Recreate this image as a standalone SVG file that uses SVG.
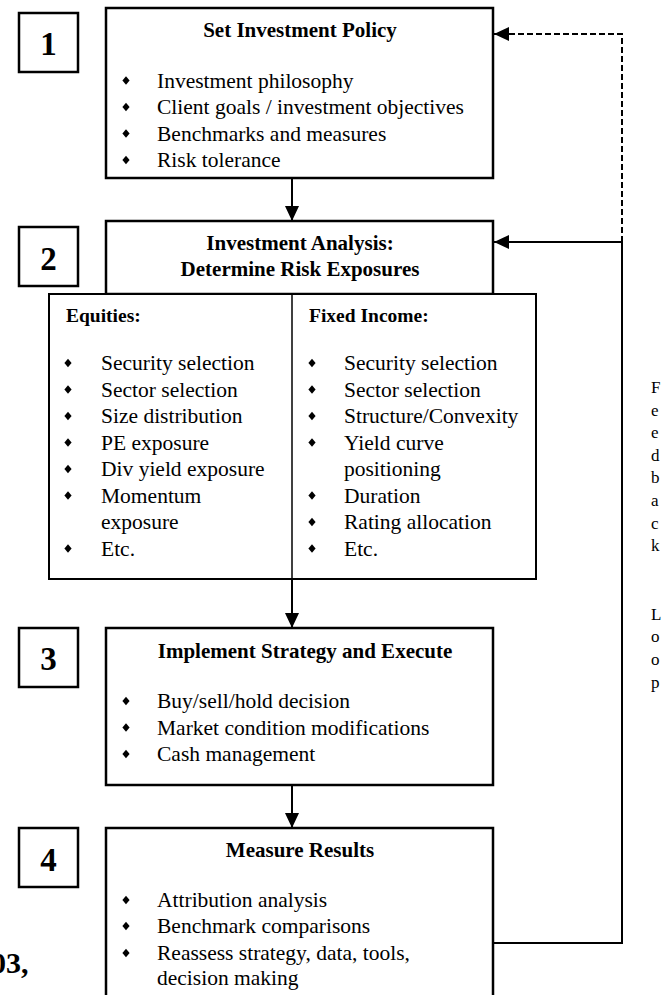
<svg xmlns="http://www.w3.org/2000/svg" width="664" height="995" viewBox="0 0 664 995">
<style>
.box{fill:#fff;stroke:#000;stroke-width:2.5}
.nbox{fill:#fff;stroke:#000;stroke-width:2.5}
.inner{fill:#fff;stroke:#000;stroke-width:2}
.t{font-family:"Liberation Serif","Times New Roman",serif;font-size:21.5px;fill:#000}
.h{font-family:"Liberation Serif","Times New Roman",serif;font-size:21px;font-weight:bold;fill:#000;text-anchor:middle}
.sh{font-family:"Liberation Serif","Times New Roman",serif;font-size:19.5px;font-weight:bold;fill:#000}
.num{font-family:"Liberation Serif","Times New Roman",serif;font-size:33px;font-weight:bold;fill:#000;text-anchor:middle}
.fb{font-family:"Liberation Serif","Times New Roman",serif;font-size:17px;fill:#000}
.big{font-family:"Liberation Serif","Times New Roman",serif;font-size:30px;font-weight:bold;fill:#000}
.ln{fill:none;stroke:#000;stroke-width:2}
.dash{fill:none;stroke:#000;stroke-width:2;stroke-dasharray:6,3}
</style>
<defs>
<marker id="ah" viewBox="0 0 15 14" refX="15" refY="7" markerWidth="15" markerHeight="14" markerUnits="userSpaceOnUse" orient="auto">
<path d="M0,0 L15,7 L0,14 z" fill="#000"/>
</marker>
<path id="bul" d="M0,-4.2 L3.6,0 L0,4.2 L-3.6,0 z" fill="#000"/>
</defs>
<rect width="664" height="995" fill="#fff"/>

<g id="connectors">
<path class="ln" d="M292,179 L292,221" marker-end="url(#ah)"/>
<path class="ln" d="M292,580 L292,628" marker-end="url(#ah)"/>
<path class="ln" d="M292,786 L292,828" marker-end="url(#ah)"/>
<path class="ln" d="M494,943 L622,943 L622,242 L494,242" marker-end="url(#ah)"/>
<path class="dash" d="M622,242 L622,34 L494,34" marker-end="url(#ah)"/>
</g>

<g id="step1">
<rect class="nbox" x="19" y="13" width="59" height="59"/>
<text class="num" x="48.5" y="55">1</text>
</g>
<g id="step2">
<rect class="nbox" x="19" y="227" width="59" height="59"/>
<text class="num" x="48.5" y="270">2</text>
</g>
<g id="step3">
<rect class="nbox" x="19" y="628" width="59" height="59"/>
<text class="num" x="48.5" y="670">3</text>
</g>
<g id="step4">
<rect class="nbox" x="19" y="828" width="59" height="59"/>
<text class="num" x="48.5" y="871">4</text>
</g>

<g id="box1">
<rect class="box" x="106" y="8" width="387" height="170"/>
<text class="h" x="300" y="37">Set Investment Policy</text>
<use href="#bul" x="126" y="80.5"/>
<use href="#bul" x="126" y="107"/>
<use href="#bul" x="126" y="133.5"/>
<use href="#bul" x="126" y="160"/>
<text class="t" x="157" y="87.5">Investment philosophy</text>
<text class="t" x="157" y="114">Client goals / investment objectives</text>
<text class="t" x="157" y="140.5">Benchmarks and measures</text>
<text class="t" x="157" y="167">Risk tolerance</text>
</g>

<g id="box2">
<rect class="box" x="106" y="221" width="387" height="73"/>
<text class="h" x="300" y="250">Investment Analysis:</text>
<text class="h" x="300" y="276">Determine Risk Exposures</text>
</g>

<g id="box2-detail">
<rect class="inner" x="49" y="294" width="487" height="285"/>
<line x1="292" y1="294" x2="292" y2="579" stroke="#000" stroke-width="1.5"/>
<text class="sh" x="66" y="322">Equities:</text>
<text class="sh" x="309" y="322">Fixed Income:</text>
<use href="#bul" x="68" y="363"/>
<use href="#bul" x="68" y="389.5"/>
<use href="#bul" x="68" y="416"/>
<use href="#bul" x="68" y="442.5"/>
<use href="#bul" x="68" y="469"/>
<use href="#bul" x="68" y="495.5"/>
<use href="#bul" x="68" y="548.5"/>
<text class="t" x="101" y="370">Security selection</text>
<text class="t" x="101" y="396.5">Sector selection</text>
<text class="t" x="101" y="423">Size distribution</text>
<text class="t" x="101" y="449.5">PE exposure</text>
<text class="t" x="101" y="476">Div yield exposure</text>
<text class="t" x="101" y="502.5">Momentum</text>
<text class="t" x="101" y="529">exposure</text>
<text class="t" x="101" y="555.5">Etc.</text>
<use href="#bul" x="312" y="363"/>
<use href="#bul" x="312" y="389.5"/>
<use href="#bul" x="312" y="416"/>
<use href="#bul" x="312" y="442.5"/>
<use href="#bul" x="312" y="495.5"/>
<use href="#bul" x="312" y="522"/>
<use href="#bul" x="312" y="548.5"/>
<text class="t" x="344" y="370">Security selection</text>
<text class="t" x="344" y="396.5">Sector selection</text>
<text class="t" x="344" y="423">Structure/Convexity</text>
<text class="t" x="344" y="449.5">Yield curve</text>
<text class="t" x="344" y="476">positioning</text>
<text class="t" x="344" y="502.5">Duration</text>
<text class="t" x="344" y="529">Rating allocation</text>
<text class="t" x="344" y="555.5">Etc.</text>
</g>

<g id="box3">
<rect class="box" x="106" y="628" width="387" height="157"/>
<text class="h" x="305" y="658">Implement Strategy and Execute</text>
<use href="#bul" x="126" y="701"/>
<use href="#bul" x="126" y="727.5"/>
<use href="#bul" x="126" y="754"/>
<text class="t" x="157" y="708">Buy/sell/hold decision</text>
<text class="t" x="157" y="734.5">Market condition modifications</text>
<text class="t" x="157" y="761">Cash management</text>
</g>

<g id="box4">
<rect class="box" x="106" y="828" width="387" height="180"/>
<text class="h" x="300" y="857">Measure Results</text>
<use href="#bul" x="126" y="900"/>
<use href="#bul" x="126" y="926"/>
<use href="#bul" x="126" y="953"/>
<text class="t" x="157" y="907">Attribution analysis</text>
<text class="t" x="157" y="933">Benchmark comparisons</text>
<text class="t" x="157" y="960">Reassess strategy, data, tools,</text>
<text class="t" x="157" y="985">decision making</text>
</g>

<g id="feedback-label">
<text class="fb" x="651" y="393">F</text>
<text class="fb" x="651" y="415.6">e</text>
<text class="fb" x="651" y="438.2">e</text>
<text class="fb" x="651" y="460.8">d</text>
<text class="fb" x="651" y="483.4">b</text>
<text class="fb" x="651" y="506">a</text>
<text class="fb" x="651" y="528.6">c</text>
<text class="fb" x="651" y="551.2">k</text>
<text class="fb" x="651" y="619.8">L</text>
<text class="fb" x="651" y="642.4">o</text>
<text class="fb" x="651" y="665">o</text>
<text class="fb" x="651" y="687.6">p</text>
</g>

<text class="big" x="-9" y="973">03,</text>
</svg>
